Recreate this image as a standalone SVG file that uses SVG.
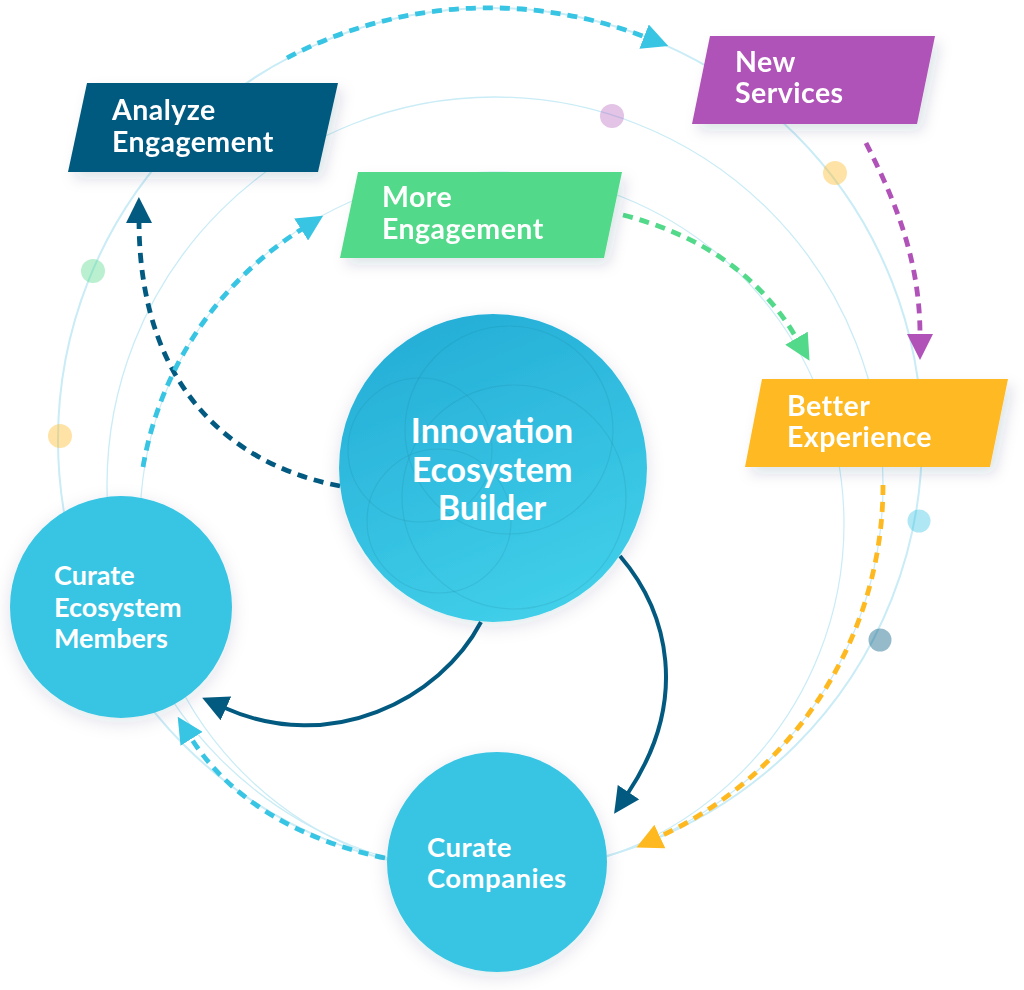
<svg xmlns="http://www.w3.org/2000/svg" width="1024" height="990" viewBox="0 0 1024 990">
<defs>
<style>
.ring{fill:none;stroke:#c9ecf6;}
.lbl{font-family:Lato,"Open Sans","Liberation Sans",sans-serif;font-weight:700;fill:#ffffff;}
.box{letter-spacing:0.45px;}
.dash{fill:none;stroke-width:4.8;stroke-dasharray:10 7;}
.solid{fill:none;stroke:#035a80;stroke-width:4;}
.node{fill:#38c4e3;}
.venn{fill:none;stroke:#1a6f8a;stroke-opacity:0.14;stroke-width:1.2;}
</style>
<linearGradient id="gInno" x1="0.3" y1="0" x2="0.7" y2="1">
<stop offset="0" stop-color="#25aed7"/>
<stop offset="1" stop-color="#41d0ea"/>
</linearGradient>
<filter id="shBox" x="-20%" y="-30%" width="150%" height="180%">
<feDropShadow dx="5" dy="7" stdDeviation="7" flood-color="#0b3b52" flood-opacity="0.13"/>
</filter>
<filter id="shCirc" x="-20%" y="-20%" width="140%" height="140%">
<feDropShadow dx="0" dy="5" stdDeviation="9" flood-color="#0b3b52" flood-opacity="0.12"/>
</filter>
<marker id="mCyan" viewBox="0 0 26 26" markerWidth="26" markerHeight="26" markerUnits="userSpaceOnUse" refX="1" refY="13" orient="auto"><path d="M0,0 L26,13 L0,26 z" fill="#38c4e3"/></marker>
<marker id="mNavy" viewBox="0 0 26 26" markerWidth="26" markerHeight="26" markerUnits="userSpaceOnUse" refX="1" refY="13" orient="auto"><path d="M0,0 L26,13 L0,26 z" fill="#035a80"/></marker>
<marker id="mGreen" viewBox="0 0 26 26" markerWidth="26" markerHeight="26" markerUnits="userSpaceOnUse" refX="1" refY="13" orient="auto"><path d="M0,0 L26,13 L0,26 z" fill="#52d98a"/></marker>
<marker id="mPurple" viewBox="0 0 26 26" markerWidth="26" markerHeight="26" markerUnits="userSpaceOnUse" refX="1" refY="13" orient="auto"><path d="M0,0 L26,13 L0,26 z" fill="#b052b8"/></marker>
<marker id="mOrange" viewBox="0 0 26 26" markerWidth="26" markerHeight="26" markerUnits="userSpaceOnUse" refX="1" refY="13" orient="auto"><path d="M0,0 L26,13 L0,26 z" fill="#ffb920"/></marker>
</defs>
<rect width="1024" height="990" fill="#ffffff"/>
<g id="background-rings">
<circle class="ring" cx="490" cy="440" r="432" stroke-width="2"/>
<circle class="ring" cx="495" cy="485" r="388" stroke-width="1.3" fill="#fbfeff"/>
<circle class="ring" cx="492" cy="524" r="352" stroke-width="1.2" fill="#f8fdfe"/>
</g>
<g id="dots">
<circle cx="612" cy="116" r="12" fill="#b052b8" opacity="0.35"/>
<circle cx="835" cy="173" r="12" fill="#ffb920" opacity="0.4"/>
<circle cx="93" cy="271" r="12" fill="#52d98a" opacity="0.4"/>
<circle cx="60" cy="436" r="12" fill="#ffb920" opacity="0.4"/>
<circle cx="919" cy="521" r="11.5" fill="#38c4e3" opacity="0.4"/>
<circle cx="880" cy="640" r="11.5" fill="#035a80" opacity="0.42"/>
</g>
<g id="connectors">
<path class="dash" stroke="#38c4e3" d="M287,58 A432,432 0 0 1 645,37" marker-end="url(#mCyan)"/>
<path class="dash" stroke="#035a80" d="M340,486 C245,468 140,400 139,222" marker-end="url(#mNavy)"/>
<path class="dash" stroke="#38c4e3" d="M143,467 A352,352 0 0 1 302,229" marker-end="url(#mCyan)"/>
<path class="dash" stroke="#52d98a" d="M623,215 C700,235 760,275 797,339" marker-end="url(#mGreen)"/>
<path class="dash" stroke="#b052b8" d="M866,143 C895,200 920,260 920,335" marker-end="url(#mPurple)"/>
<path class="dash" stroke="#ffb920" d="M883,485 A388,388 0 0 1 659,837" marker-end="url(#mOrange)"/>
<path class="dash" stroke="#38c4e3" d="M385,858 C300,840 230,800 191,738" marker-end="url(#mCyan)"/>
<path class="solid" d="M481,622 C440,700 330,755 225,708" marker-end="url(#mNavy)"/>
<path class="solid" d="M620,556 C668,612 690,700 628,793" marker-end="url(#mNavy)"/>
</g>
<g id="node-analyze-engagement" filter="url(#shBox)">
<polygon points="87,83 338,83 318,172 68,172" fill="#035a80"/>
<text class="lbl box" font-size="28.5"><tspan x="112" y="120">Analyze</tspan><tspan x="112" y="152">Engagement</tspan></text>
</g>
<g id="node-more-engagement" filter="url(#shBox)">
<polygon points="358,172 622,172 604,258 340,258" fill="#52d98a"/>
<text class="lbl box" font-size="28.5"><tspan x="382" y="207">More</tspan><tspan x="382" y="239">Engagement</tspan></text>
</g>
<g id="node-new-services" filter="url(#shBox)">
<polygon points="710,36 935,36 917,124 692,124" fill="#b052b8"/>
<text class="lbl box" font-size="28.5"><tspan x="735" y="72">New</tspan><tspan x="735" y="103">Services</tspan></text>
</g>
<g id="node-better-experience" filter="url(#shBox)">
<polygon points="762,379 1008,379 990,467 745,467" fill="#ffb920"/>
<text class="lbl box" font-size="28.5"><tspan x="787" y="416">Better</tspan><tspan x="787" y="447">Experience</tspan></text>
</g>
<g id="node-innovation-ecosystem-builder">
<circle cx="493" cy="468" r="154" fill="url(#gInno)" filter="url(#shCirc)"/>
<circle class="venn" cx="420" cy="450" r="72"/>
<circle class="venn" cx="509" cy="430" r="104"/>
<circle class="venn" cx="514" cy="497" r="112"/>
<circle class="venn" cx="439" cy="521" r="72"/>
<text class="lbl" font-size="34" text-anchor="middle"><tspan x="492" y="443">Innovation</tspan><tspan x="492" y="482">Ecosystem</tspan><tspan x="492" y="520">Builder</tspan></text>
</g>
<g id="node-curate-ecosystem-members">
<circle class="node" cx="121" cy="607" r="111" filter="url(#shCirc)"/>
<text class="lbl" font-size="27"><tspan x="54" y="585">Curate</tspan><tspan x="54" y="617">Ecosystem</tspan><tspan x="54" y="648">Members</tspan></text>
</g>
<g id="node-curate-companies">
<circle class="node" cx="497" cy="862" r="110" filter="url(#shCirc)"/>
<text class="lbl box" font-size="27.5"><tspan x="427" y="857">Curate</tspan><tspan x="427" y="888">Companies</tspan></text>
</g>
</svg>
